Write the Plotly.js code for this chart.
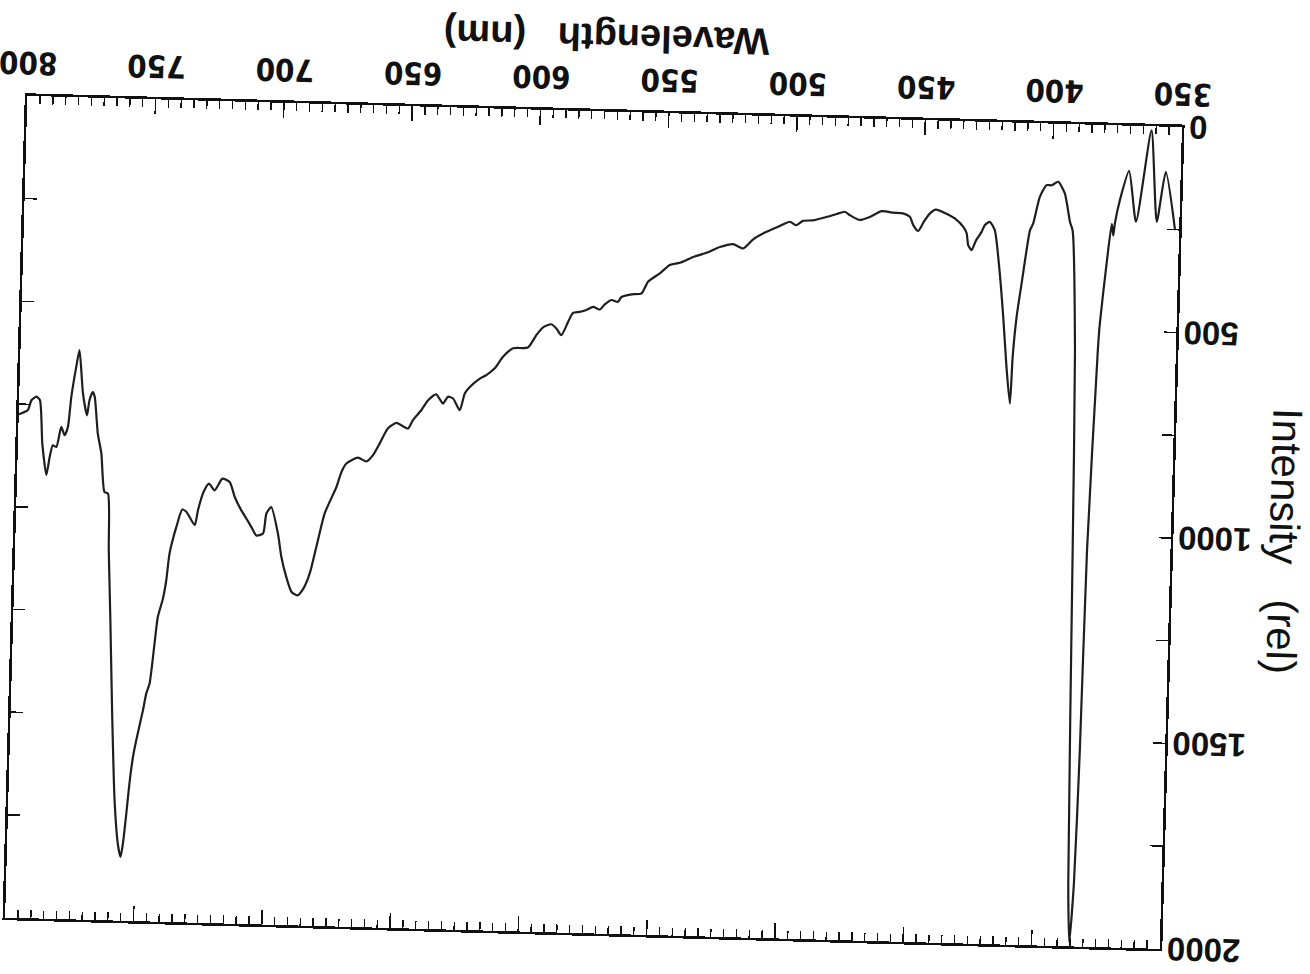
<!DOCTYPE html>
<html>
<head>
<meta charset="utf-8">
<script src="https://cdn.plot.ly/plotly-3.0.1.min.js"></script>
<style>
  html, body { margin: 0; padding: 0; background: #ffffff; overflow: hidden; width: 1310px; height: 974px; position: relative; }
  #chart { position: absolute; left: -30px; top: -30px; width: 1370px; height: 1034px; transform: rotate(181.55deg); transform-origin: 50% 50%; }
</style>
</head>
<body>
<div id="chart"></div>
<script>
// Wavelength (nm)
const wavelength = [
  351.6, 355.8, 358.8, 361.8, 366.9, 370.1, 373.4, 375.1, 375.6, 376.3,
  377.9, 379.9, 380.4, 382.5, 383.2, 384.1, 385.3, 386.3, 388.1, 389.3,
  391.5, 392.6, 394.9, 397.6, 400.1, 402.1, 404.6, 406.9, 408.1, 409.2,
  410.8, 412.4, 413.5, 414.1, 415.8, 417.6, 419.7, 421.8, 423.8, 425.7,
  426.9, 429.0, 430.6, 432.0, 432.7, 434.1, 437.5, 440.8, 445.0, 447.3,
  449.5, 451.6, 453.6, 455.0, 457.7, 461.6, 466.1, 470.6, 474.5, 478.4,
  480.4, 483.6, 487.5, 492.7, 496.6, 499.1, 501.7, 505.6, 510.7, 515.8,
  519.6, 523.6, 528.7, 533.8, 539.0, 544.1, 548.0, 551.8, 556.3, 558.7,
  562.6, 566.5, 567.8, 570.4, 572.9, 574.8, 577.4, 580.0, 582.6, 585.2,
  587.0, 589.5, 591.5, 593.5, 596.7, 599.2, 602.4, 608.2, 612.0, 615.1,
  618.3, 620.8, 624.6, 626.5, 628.3, 631.0, 633.0, 634.9, 637.6, 640.7,
  643.2, 646.4, 648.3, 652.8, 656.1, 659.1, 661.6, 664.1, 667.4, 671.9,
  673.7, 675.5, 677.4, 679.8, 682.7, 685.0, 687.2, 689.5, 691.8, 694.1,
  696.2, 697.8, 700.7, 702.5, 703.6, 706.2, 708.2, 710.2, 712.3, 715.0,
  717.1, 720.0, 722.9, 725.2, 727.2, 729.2, 730.3, 733.7, 735.3, 737.4,
  739.8, 740.8, 741.9, 743.7, 744.7, 746.2, 747.4, 748.5, 750.8, 751.9,
  753.0, 753.9, 754.9, 755.7, 756.9, 758.6, 760.4, 762.2, 763.5, 764.4,
  765.8, 767.4, 769.0, 770.6, 771.4, 772.6, 773.4, 775.2, 777.0, 778.1,
  779.7, 780.7, 781.9, 783.3, 785.0, 786.4, 787.5, 788.6, 790.5, 791.9,
  793.3, 795.2, 796.5, 800.0
];
// Intensity (rel)
const intensity = [
  251, 110, 232, 10, 233, 110, 182, 239, 268, 240,
  337, 483, 548, 1035, 1523, 1846, 1990, 1847, 1036, 550,
  258, 238, 169, 141, 150, 150, 179, 244, 261, 309,
  391, 473, 570, 684, 595, 473, 352, 263, 243, 251,
  268, 289, 313, 301, 273, 257, 237, 226, 217, 227,
  247, 270, 256, 236, 228, 227, 224, 239, 247, 236,
  228, 234, 242, 251, 253, 264, 256, 267, 282, 301,
  324, 314, 322, 337, 348, 363, 369, 390, 411, 440,
  443, 450, 462, 458, 469, 482, 476, 484, 489, 492,
  514, 547, 531, 521, 529, 548, 579, 582, 603, 632,
  649, 658, 679, 695, 736, 708, 704, 721, 699, 714,
  738, 763, 784, 771, 785, 822, 851, 867, 858, 873,
  894, 931, 959, 996, 1078, 1143, 1179, 1197, 1190, 1153,
  1105, 1048, 984, 1000, 1049, 1054, 1034, 1014, 994, 962,
  926, 918, 947, 931, 952, 997, 1033, 1001, 996, 1038,
  1104, 1169, 1214, 1259, 1324, 1421, 1446, 1487, 1560, 1601,
  1666, 1739, 1812, 1845, 1813, 1708, 1505, 1262, 1100, 962,
  958, 865, 817, 727, 716, 736, 773, 720, 615, 656,
  729, 802, 823, 803, 852, 848, 877, 921, 845, 739,
  731, 740, 764, 775
];
const xTickVals = [350, 400, 450, 500, 550, 600, 650, 700, 750, 800];
const yTickVals = [0, 500, 1000, 1500, 2000];
const xTitle = 'Wavelength\u00a0\u00a0\u00a0(nm)';
const yTitle = 'Intensity\u00a0\u00a0\u00a0(rel)';

const trace = {
  x: wavelength,
  y: intensity,
  type: 'scatter',
  mode: 'lines',
  line: { color: '#1e1e1e', width: 2.2, shape: 'spline', smoothing: 0.6 },
  hoverinfo: 'x+y'
};

const layout = {
  width: 1370,
  height: 1034,
  autosize: false,
  margin: { l: 168, r: 47, t: 69, b: 143, pad: 0 },
  paper_bgcolor: '#ffffff',
  plot_bgcolor: '#ffffff',
  showlegend: false,
  xaxis: {
    range: [350, 800],
    tickmode: 'array',
    tickvals: xTickVals,
    ticktext: xTickVals.map(String),
    ticks: 'inside',
    ticklen: 15,
    tickwidth: 1.6,
    tickcolor: '#111',
    showline: true,
    linecolor: '#111',
    linewidth: 2.6,
    mirror: 'ticks',
    showgrid: false,
    zeroline: false,
    minor: { dtick: 5, ticks: 'inside', ticklen: 8, tickwidth: 1.4, tickcolor: '#111', showgrid: false },
    tickfont: { family: '"Liberation Sans Narrow", "DejaVu Sans Condensed", "Liberation Sans", sans-serif', size: 31, color: '#111', weight: 'bold' },
    ticklabelstandoff: 4,
    ticklabeloverflow: 'allow',
    title: { text: xTitle, font: { family: '"Liberation Sans", Arial, sans-serif', size: 38, color: '#111', weight: 'bold' }, standoff: 11 },
    automargin: false
  },
  yaxis: {
    range: [0, 2000],
    tickmode: 'array',
    tickvals: yTickVals,
    ticktext: yTickVals.map(String),
    ticks: 'inside',
    ticklen: 12,
    tickwidth: 1.6,
    tickcolor: '#111',
    showline: true,
    linecolor: '#111',
    linewidth: 2.6,
    mirror: 'ticks',
    showgrid: false,
    zeroline: false,
    minor: { dtick: 250, ticks: 'inside', ticklen: 12, tickwidth: 1.4, tickcolor: '#111', showgrid: false },
    tickfont: { family: '"Liberation Sans", Arial, sans-serif', size: 33, color: '#111', weight: 'bold' },
    ticklabelstandoff: -2,
    ticklabeloverflow: 'allow',
    title: { text: yTitle, font: { family: '"Liberation Sans", Arial, sans-serif', size: 42, color: '#111' }, standoff: 5 },
    automargin: false
  }
};

Plotly.newPlot('chart', [trace], layout, { displayModeBar: false, staticPlot: true });
</script>
</body>
</html>
